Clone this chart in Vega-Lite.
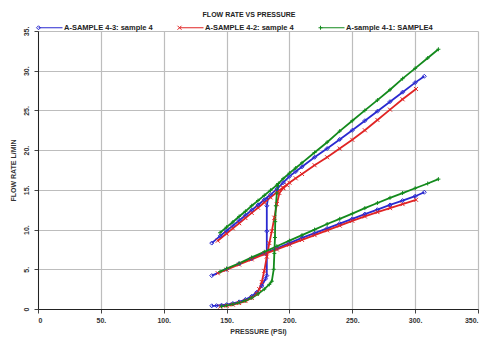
{
  "$schema": "https://vega.github.io/schema/vega-lite/v6.json",
  "width": 440,
  "height": 278,
  "autosize": {"type": "none"},
  "padding": {"left": 38, "top": 31, "right": 9, "bottom": 32},
  "background": "white",
  "title": {"text": "FLOW RATE VS PRESSURE", "fontSize": 7, "fontWeight": "bold", "font": "Liberation Sans", "color": "#222", "anchor": "middle", "dx": -9, "offset": 5},
  "config": {
    "view": {"stroke": null},
    "font": "Liberation Sans",
    "axis": {"labelFont": "Liberation Sans", "titleFont": "Liberation Sans", "labelFontSize": 7, "labelFontWeight": "bold", "labelColor": "#333", "titleFontSize": 7, "titleFontWeight": "bold", "titleColor": "#333", "domainColor": "#222", "tickColor": "#444", "tickSize": 4, "gridColor": "#bdbdbd", "gridWidth": 1.2}
  },
  "data": {"values": [
    {"s":"4-3","g":"m","p":138.2,"f":8.3},{"s":"4-3","g":"m","p":145,"f":9.2},{"s":"4-3","g":"m","p":150,"f":9.85},{"s":"4-3","g":"m","p":155,"f":10.5},{"s":"4-3","g":"m","p":160,"f":11.15},{"s":"4-3","g":"m","p":165,"f":11.8},{"s":"4-3","g":"m","p":170,"f":12.45},{"s":"4-3","g":"m","p":175,"f":13.1},{"s":"4-3","g":"m","p":180,"f":13.75},{"s":"4-3","g":"m","p":185,"f":14.4},{"s":"4-3","g":"m","p":190,"f":15.1},{"s":"4-3","g":"m","p":195,"f":15.9},{"s":"4-3","g":"m","p":200,"f":16.7},{"s":"4-3","g":"m","p":205,"f":17.3},{"s":"4-3","g":"m","p":210,"f":17.9},{"s":"4-3","g":"m","p":220,"f":19.1},{"s":"4-3","g":"m","p":230,"f":20.2},{"s":"4-3","g":"m","p":240,"f":21.35},{"s":"4-3","g":"m","p":250,"f":22.5},{"s":"4-3","g":"m","p":260,"f":23.7},{"s":"4-3","g":"m","p":270,"f":24.9},{"s":"4-3","g":"m","p":280,"f":26.1},{"s":"4-3","g":"m","p":290,"f":27.3},{"s":"4-3","g":"m","p":300,"f":28.5},{"s":"4-3","g":"m","p":307.3,"f":29.3},
    {"s":"4-3","g":"b","p":138.2,"f":0.4},{"s":"4-3","g":"b","p":142,"f":0.42},{"s":"4-3","g":"b","p":146,"f":0.48},{"s":"4-3","g":"b","p":150,"f":0.55},{"s":"4-3","g":"b","p":155,"f":0.7},{"s":"4-3","g":"b","p":160,"f":0.9},{"s":"4-3","g":"b","p":165,"f":1.2},{"s":"4-3","g":"b","p":170,"f":1.6},{"s":"4-3","g":"b","p":174,"f":2.1},{"s":"4-3","g":"b","p":178,"f":2.9},{"s":"4-3","g":"b","p":181,"f":3.8},{"s":"4-3","g":"b","p":182,"f":4.2},{"s":"4-3","g":"b","p":182,"f":9.8},{"s":"4-3","g":"b","p":182,"f":13.0},{"s":"4-3","g":"b","p":183,"f":14.0},
    {"s":"4-3","g":"l","p":138.2,"f":4.2},{"s":"4-3","g":"l","p":150,"f":5.0},{"s":"4-3","g":"l","p":160,"f":5.7},{"s":"4-3","g":"l","p":170,"f":6.35},{"s":"4-3","g":"l","p":180,"f":7.0},{"s":"4-3","g":"l","p":190,"f":7.65},{"s":"4-3","g":"l","p":200,"f":8.3},{"s":"4-3","g":"l","p":210,"f":8.95},{"s":"4-3","g":"l","p":220,"f":9.55},{"s":"4-3","g":"l","p":230,"f":10.15},{"s":"4-3","g":"l","p":240,"f":10.75},{"s":"4-3","g":"l","p":250,"f":11.35},{"s":"4-3","g":"l","p":260,"f":11.95},{"s":"4-3","g":"l","p":270,"f":12.5},{"s":"4-3","g":"l","p":280,"f":13.1},{"s":"4-3","g":"l","p":290,"f":13.65},{"s":"4-3","g":"l","p":300,"f":14.2},{"s":"4-3","g":"l","p":307.3,"f":14.7},
    {"s":"4-2","g":"m","p":143,"f":8.6},{"s":"4-2","g":"m","p":150,"f":9.5},{"s":"4-2","g":"m","p":155,"f":10.15},{"s":"4-2","g":"m","p":160,"f":10.8},{"s":"4-2","g":"m","p":165,"f":11.45},{"s":"4-2","g":"m","p":170,"f":12.1},{"s":"4-2","g":"m","p":175,"f":12.75},{"s":"4-2","g":"m","p":180,"f":13.4},{"s":"4-2","g":"m","p":185,"f":14.05},{"s":"4-2","g":"m","p":190,"f":14.7},{"s":"4-2","g":"m","p":195,"f":15.3},{"s":"4-2","g":"m","p":200,"f":15.9},{"s":"4-2","g":"m","p":205,"f":16.45},{"s":"4-2","g":"m","p":210,"f":17.0},{"s":"4-2","g":"m","p":220,"f":18.1},{"s":"4-2","g":"m","p":230,"f":19.1},{"s":"4-2","g":"m","p":240,"f":20.2},{"s":"4-2","g":"m","p":250,"f":21.3},{"s":"4-2","g":"m","p":260,"f":22.5},{"s":"4-2","g":"m","p":270,"f":23.8},{"s":"4-2","g":"m","p":280,"f":25.1},{"s":"4-2","g":"m","p":290,"f":26.4},{"s":"4-2","g":"m","p":300.7,"f":27.7},
    {"s":"4-2","g":"b","p":145,"f":0.3},{"s":"4-2","g":"b","p":150,"f":0.4},{"s":"4-2","g":"b","p":155,"f":0.55},{"s":"4-2","g":"b","p":160,"f":0.75},{"s":"4-2","g":"b","p":165,"f":1.0},{"s":"4-2","g":"b","p":170,"f":1.4},{"s":"4-2","g":"b","p":174,"f":1.9},{"s":"4-2","g":"b","p":176,"f":2.5},{"s":"4-2","g":"b","p":178,"f":3.4},{"s":"4-2","g":"b","p":180,"f":4.8},{"s":"4-2","g":"b","p":182,"f":6.6},{"s":"4-2","g":"b","p":184,"f":8.3},{"s":"4-2","g":"b","p":186,"f":9.8},{"s":"4-2","g":"b","p":188,"f":11.5},{"s":"4-2","g":"b","p":190,"f":13.2},{"s":"4-2","g":"b","p":192,"f":14.6},{"s":"4-2","g":"b","p":195,"f":15.2},{"s":"4-2","g":"b","p":198,"f":15.6},
    {"s":"4-2","g":"l","p":143,"f":4.5},{"s":"4-2","g":"l","p":150,"f":4.95},{"s":"4-2","g":"l","p":160,"f":5.6},{"s":"4-2","g":"l","p":170,"f":6.25},{"s":"4-2","g":"l","p":180,"f":6.9},{"s":"4-2","g":"l","p":190,"f":7.5},{"s":"4-2","g":"l","p":200,"f":8.1},{"s":"4-2","g":"l","p":210,"f":8.7},{"s":"4-2","g":"l","p":220,"f":9.3},{"s":"4-2","g":"l","p":230,"f":9.9},{"s":"4-2","g":"l","p":240,"f":10.5},{"s":"4-2","g":"l","p":250,"f":11.1},{"s":"4-2","g":"l","p":260,"f":11.65},{"s":"4-2","g":"l","p":270,"f":12.2},{"s":"4-2","g":"l","p":280,"f":12.7},{"s":"4-2","g":"l","p":290,"f":13.2},{"s":"4-2","g":"l","p":300.7,"f":13.75},
    {"s":"4-1","g":"m","p":144.8,"f":9.6},{"s":"4-1","g":"m","p":150,"f":10.3},{"s":"4-1","g":"m","p":155,"f":10.95},{"s":"4-1","g":"m","p":160,"f":11.65},{"s":"4-1","g":"m","p":165,"f":12.3},{"s":"4-1","g":"m","p":170,"f":13.0},{"s":"4-1","g":"m","p":175,"f":13.65},{"s":"4-1","g":"m","p":180,"f":14.3},{"s":"4-1","g":"m","p":185,"f":14.95},{"s":"4-1","g":"m","p":190,"f":15.6},{"s":"4-1","g":"m","p":195,"f":16.4},{"s":"4-1","g":"m","p":200,"f":17.1},{"s":"4-1","g":"m","p":205,"f":17.75},{"s":"4-1","g":"m","p":210,"f":18.4},{"s":"4-1","g":"m","p":220,"f":19.7},{"s":"4-1","g":"m","p":230,"f":21.0},{"s":"4-1","g":"m","p":240,"f":22.4},{"s":"4-1","g":"m","p":250,"f":23.7},{"s":"4-1","g":"m","p":260,"f":25.0},{"s":"4-1","g":"m","p":270,"f":26.3},{"s":"4-1","g":"m","p":280,"f":27.6},{"s":"4-1","g":"m","p":290,"f":29.0},{"s":"4-1","g":"m","p":300,"f":30.3},{"s":"4-1","g":"m","p":310,"f":31.6},{"s":"4-1","g":"m","p":318.5,"f":32.7},
    {"s":"4-1","g":"b","p":146,"f":0.33},{"s":"4-1","g":"b","p":150,"f":0.45},{"s":"4-1","g":"b","p":155,"f":0.6},{"s":"4-1","g":"b","p":160,"f":0.8},{"s":"4-1","g":"b","p":165,"f":1.05},{"s":"4-1","g":"b","p":170,"f":1.4},{"s":"4-1","g":"b","p":175,"f":1.9},{"s":"4-1","g":"b","p":180,"f":2.5},{"s":"4-1","g":"b","p":184,"f":3.1},{"s":"4-1","g":"b","p":186,"f":3.5},{"s":"4-1","g":"b","p":187.5,"f":5.0},{"s":"4-1","g":"b","p":188,"f":7.0},{"s":"4-1","g":"b","p":188.5,"f":9.0},{"s":"4-1","g":"b","p":188.7,"f":11.0},{"s":"4-1","g":"b","p":189.2,"f":13.0},{"s":"4-1","g":"b","p":190,"f":14.6},{"s":"4-1","g":"b","p":191.2,"f":15.8},
    {"s":"4-1","g":"l","p":144.8,"f":4.7},{"s":"4-1","g":"l","p":150,"f":5.1},{"s":"4-1","g":"l","p":160,"f":5.75},{"s":"4-1","g":"l","p":170,"f":6.5},{"s":"4-1","g":"l","p":180,"f":7.2},{"s":"4-1","g":"l","p":190,"f":7.9},{"s":"4-1","g":"l","p":200,"f":8.6},{"s":"4-1","g":"l","p":210,"f":9.3},{"s":"4-1","g":"l","p":220,"f":10.0},{"s":"4-1","g":"l","p":230,"f":10.7},{"s":"4-1","g":"l","p":240,"f":11.35},{"s":"4-1","g":"l","p":250,"f":12.0},{"s":"4-1","g":"l","p":260,"f":12.7},{"s":"4-1","g":"l","p":270,"f":13.35},{"s":"4-1","g":"l","p":280,"f":14.0},{"s":"4-1","g":"l","p":290,"f":14.6},{"s":"4-1","g":"l","p":300,"f":15.2},{"s":"4-1","g":"l","p":310,"f":15.8},{"s":"4-1","g":"l","p":318.5,"f":16.35}
  ]},
  "encoding": {
    "x": {"field": "p", "type": "quantitative", "scale": {"domain": [0, 350], "nice": false},
      "axis": {"values": [0,50,100,150,200,250,300,350], "labelExpr": "datum.value == 0 ? '0' : datum.label + '.'", "title": "PRESSURE (PSI)", "labelPadding": 3, "titlePadding": 4}},
    "y": {"field": "f", "type": "quantitative", "scale": {"domain": [0, 35], "nice": false},
      "axis": {"values": [0,5,10,15,20,25,30,35], "labelExpr": "datum.value == 0 ? '0' : datum.label + '.'", "title": "FLOW RATE  L/MIN", "labelAngle": -90, "labelAlign": "center", "labelBaseline": "bottom", "labelPadding": 5, "titlePadding": 6}},
    "color": {"field": "s", "type": "nominal",
      "scale": {"domain": ["4-3", "4-2", "4-1"], "range": ["#2a2ad0", "#e02424", "#138a1c"]},
      "legend": {"orient": "top", "direction": "horizontal", "title": null, "offset": -1, "columnPadding": 22, "labelOffset": 17,
        "labelFont": "Liberation Sans", "labelFontSize": 7.5, "labelFontWeight": "bold", "labelColor": "#222", "symbolSize": 64, "labelLimit": 200, "symbolStrokeWidth": 1,
        "symbolType": "M-1,0L5,0",
        "labelExpr": "datum.label == '4-3' ? 'A-SAMPLE 4-3: sample 4' : datum.label == '4-2' ? 'A-SAMPLE 4-2: sample 4' : 'A-sample 4-1: SAMPLE4'",
        "encoding": {"symbols": {
          "shape": {"value": {"expr": "datum.value == '4-3' ? 'M-1,0L5,0M-1.5,0L-1,-0.5L-0.5,0L-1,0.5Z' : datum.value == '4-2' ? 'M-1,0L5,0M-1.5,-0.5L-0.5,0.5M-1.5,0.5L-0.5,-0.5' : 'M-1,0L5,0M-1.5,0L-0.5,0M-1,-0.5L-1,0.5'"}},
          "fill": {"value": "transparent"}}}}
    }
  },
  "layer": [
    {"mark": {"type": "line", "strokeWidth": 1.8}, "encoding": {"detail": {"field": "g"}, "order": {"value": null}}},
    {"transform": [{"filter": "datum.s == '4-3'"}], "mark": {"type": "point", "filled": false, "size": 16, "strokeWidth": 1, "opacity": 1, "shape": "M0,-1L1,0L0,1L-1,0Z"}},
    {"transform": [{"filter": "datum.s == '4-2'"}], "mark": {"type": "point", "filled": false, "size": 16, "strokeWidth": 1, "opacity": 1, "shape": "M-1,-1L1,1M-1,1L1,-1"}},
    {"transform": [{"filter": "datum.s == '4-1'"}], "mark": {"type": "point", "filled": false, "size": 16, "strokeWidth": 1, "opacity": 1, "shape": "M-1,0L1,0M0,-1L0,1"}}
  ]
}
